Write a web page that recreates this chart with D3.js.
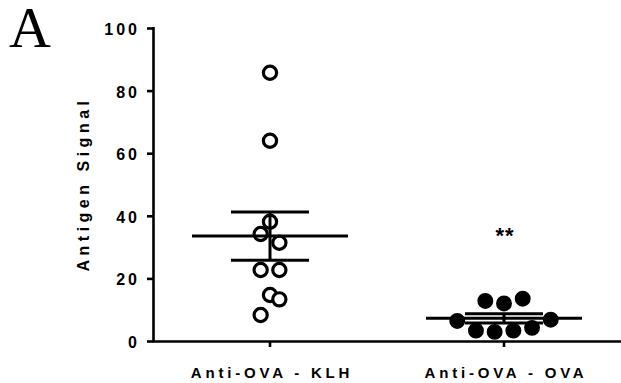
<!DOCTYPE html>
<html>
<head>
<meta charset="utf-8">
<script src="https://cdn.jsdelivr.net/npm/d3@7"></script>
<style>
  html, body { margin: 0; padding: 0; background: #fff; }
  svg { display: block; }
</style>
</head>
<body>
<svg id="chart" width="621" height="383"></svg>
<script>
// ---- data ----
const categories = ["Anti-OVA - KLH", "Anti-OVA - OVA"];
const klhValues = [85.7, 64.0, 38.1, 34.2, 31.4, 22.7, 22.7, 14.7, 13.3, 8.3];
const klhSlots  = [0, 0, 0, -1, 1, -1, 1, 0, 1, -1];
const ovaValues = [6.4, 12.8, 12.0, 13.5, 6.8, 3.3, 2.9, 3.3, 4.2];
const ovaSlots  = [-5, -2, 0, 2, 5, -3, -1, 1, 3];
const yTicks = [0, 20, 40, 60, 80, 100];
const yTitle = "Antigen Signal";
const panelLabel = "A";
const sigLabel = "**";

const groups = [
  { name: categories[0], values: klhValues, slots: klhSlots, filled: false },
  { name: categories[1], values: ovaValues, slots: ovaSlots, filled: true, sig: sigLabel }
];

// ---- layout ----
const svg = d3.select("#chart");
const plotL = 153, plotR = 621, plotT = 28, plotB = 341;
const slotW = 9.35;
const y = d3.scaleLinear().domain([0, 100]).range([plotB, plotT]);
const x = d3.scaleBand().domain(categories).range([plotL, plotR]);
const cx = c => x(c) + x.bandwidth() / 2;

const FONT = "Liberation Sans, Arial, Helvetica, sans-serif";

// y axis
const yAxis = svg.append("g")
  .attr("transform", `translate(${plotL},0)`)
  .call(d3.axisLeft(y).tickValues(yTicks).tickSize(6).tickPadding(10).tickSizeOuter(0));
yAxis.select(".domain").attr("stroke", "#000").attr("stroke-width", 2.6)
  .attr("d", `M0.5,${plotT - 1}V${plotB + 1}`);
yAxis.selectAll(".tick line").attr("stroke", "#000").attr("stroke-width", 2.6);
yAxis.selectAll(".tick text")
  .attr("font-family", FONT).attr("font-weight", "bold").attr("font-size", 16)
  .attr("letter-spacing", "3px").attr("fill", "#000")
  .attr("dy", "0.4em").attr("dx", "3px");

// x axis
const xAxis = svg.append("g")
  .attr("transform", `translate(0,${plotB})`)
  .call(d3.axisBottom(x).tickSize(6).tickPadding(17).tickSizeOuter(0));
xAxis.select(".domain").attr("stroke", "#000").attr("stroke-width", 2.6)
  .attr("d", `M${plotL - 1},0.5H${plotR}`);
xAxis.selectAll(".tick line").attr("stroke", "#000").attr("stroke-width", 2.6);
xAxis.selectAll(".tick text")
  .attr("font-family", FONT).attr("font-weight", "bold").attr("font-size", 15)
  .attr("letter-spacing", "3.8px").attr("fill", "#000")
  .attr("dx", "2px").attr("dy", "0.9em");

// points and mean/SEM
groups.forEach(g => {
  const c = cx(g.name);
  const mean = d3.mean(g.values);
  const sem = d3.deviation(g.values) / Math.sqrt(g.values.length);
  const gg = svg.append("g");
  gg.selectAll("circle").data(g.values).join("circle")
    .attr("cx", (d, i) => c + g.slots[i] * slotW)
    .attr("cy", d => y(d))
    .attr("r", g.filled ? 7.2 : 6.6)
    .attr("fill", g.filled ? "#000" : "#fff")
    .attr("stroke", "#000")
    .attr("stroke-width", g.filled ? 1.5 : 3.2);
  const lw = 3;
  gg.append("line").attr("x1", c - 78).attr("x2", c + 78)
    .attr("y1", y(mean)).attr("y2", y(mean)).attr("stroke", "#000").attr("stroke-width", lw);
  gg.append("line").attr("x1", c).attr("x2", c)
    .attr("y1", y(mean + sem)).attr("y2", y(mean - sem)).attr("stroke", "#000").attr("stroke-width", lw);
  [mean + sem, mean - sem].forEach(v => {
    gg.append("line").attr("x1", c - 39).attr("x2", c + 39)
      .attr("y1", y(v)).attr("y2", y(v)).attr("stroke", "#000").attr("stroke-width", lw);
  });
  if (g.sig) {
    svg.append("text").attr("x", c + 1).attr("y", 243)
      .attr("text-anchor", "middle")
      .attr("font-family", FONT).attr("font-weight", "bold").attr("font-size", 22)
      .attr("letter-spacing", "1px")
      .text(g.sig);
  }
});

// y title
svg.append("text")
  .attr("transform", `translate(89,184) rotate(-90)`)
  .attr("text-anchor", "middle")
  .attr("font-family", FONT).attr("font-weight", "bold").attr("font-size", 16)
  .attr("letter-spacing", "4.5px").attr("fill", "#000")
  .text(yTitle);

// panel label
svg.append("text")
  .attr("x", 9).attr("y", 47)
  .attr("font-family", "Liberation Serif, Times New Roman, serif")
  .attr("font-size", 58).attr("fill", "#000")
  .text(panelLabel);
</script>
</body>
</html>
